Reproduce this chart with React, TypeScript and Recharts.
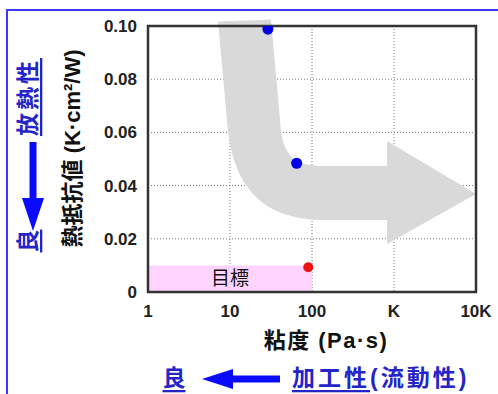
import React from 'react';
import { ScatterChart, Scatter, XAxis, YAxis, CartesianGrid, ReferenceArea } from 'recharts';

const viscosityTicks = [1, 10, 100, 1000, 10000];
const viscosityTickLabels = ['1', '10', '100', 'K', '10K'];
const resistanceTicks = [0, 0.02, 0.04, 0.06, 0.08, 0.1];
const resistanceTickLabels = ['0', '0.02', '0.04', '0.06', '0.08', '0.10'];

const blueViscosity = [29, 65];
const blueResistance = [0.0988, 0.0484];
const redViscosity = [90];
const redResistance = [0.0093];

const targetViscosity = [1, 100];
const targetResistance = [0, 0.01];
const targetLabel = '目標';

const FONT = "'Liberation Sans', Arial, 'Noto Sans CJK JP', sans-serif";

const blueData = blueViscosity.map((x, i) => ({ x, y: blueResistance[i] }));
const redData = redViscosity.map((x, i) => ({ x, y: redResistance[i] }));

// decorative curved arrow, in (log10 decades, resistance value) units
const ArrowShape = (props: any) => {
  const { x, y, width, height } = props;
  const p = (u: number, v: number) =>
    `${(x + (width * u) / 4).toFixed(2)},${(y + (height * (0.1 - v)) / 0.1).toFixed(2)}`;
  const d =
    `M${p(0.854, 0.1017)} L${p(1.5, 0.1024)} L${p(1.61, 0.0647)} ` +
    `C${p(1.634, 0.0504)} ${p(1.793, 0.0474)} ${p(2.159, 0.0474)} ` +
    `L${p(2.915, 0.0474)} L${p(2.915, 0.0568)} L${p(4, 0.0368)} L${p(2.915, 0.018)} ` +
    `L${p(2.915, 0.0271)} L${p(2.159, 0.0271)} ` +
    `C${p(1.427, 0.0271)} ${p(1.024, 0.0383)} ${p(0.963, 0.0647)} Z`;
  return <path d={d} fill="#d9d9d9" stroke="none" />;
};

const FrameShape = (props: any) => {
  const { x, y, width, height } = props;
  return <rect x={x} y={y} width={width} height={height} fill="none" stroke="#333" strokeWidth={2.5} />;
};

const dot = (color: string, r: number) => (props: any) =>
  <circle cx={props.cx} cy={props.cy} r={r} fill={color} />;

export default function App() {
  return (
    <div style={{ position: 'absolute', left: 0, top: 0, width: 498, height: 394, overflow: 'hidden', background: '#fff' }}>
      <ScatterChart width={498} height={394} margin={{ top: 26, right: 22, bottom: 0, left: 0 }}>
        <CartesianGrid stroke="#777" strokeDasharray="1 2" />
        <XAxis
          type="number"
          dataKey="x"
          scale="log"
          domain={[1, 10000]}
          ticks={viscosityTicks}
          tickFormatter={(v: number) => viscosityTickLabels[viscosityTicks.indexOf(v)] ?? ''}
          height={102}
          axisLine={false}
          tickLine={false}
          tickSize={0}
          tickMargin={13}
          interval={0}
          allowDataOverflow
          tick={{ fontSize: 17, fontWeight: 'bold', fill: '#222', fontFamily: FONT }}
        />
        <YAxis
          type="number"
          dataKey="y"
          domain={[0, 0.1]}
          ticks={resistanceTicks}
          tickFormatter={(v: number) => resistanceTickLabels[resistanceTicks.indexOf(v)] ?? ''}
          width={148}
          axisLine={false}
          tickLine={false}
          tickSize={0}
          tickMargin={11}
          interval={0}
          allowDataOverflow
          tick={{ fontSize: 17, fontWeight: 'bold', fill: '#222', fontFamily: FONT }}
        />
        <ReferenceArea
          x1={targetViscosity[0]}
          x2={targetViscosity[1]}
          y1={targetResistance[0]}
          y2={targetResistance[1]}
          fill="#ffccff"
          fillOpacity={0.85}
          stroke="none"
          label={{ value: targetLabel, position: 'center', fontSize: 19, fill: '#111', fontFamily: FONT }}
        />
        <ReferenceArea x1={1} x2={10000} y1={0} y2={0.1} shape={ArrowShape} ifOverflow="visible" />
        <ReferenceArea x1={1} x2={10000} y1={0} y2={0.1} shape={FrameShape} ifOverflow="visible" />
        <Scatter data={blueData} shape={dot('#0000e6', 5.5)} isAnimationActive={false} />
        <Scatter data={redData} shape={dot('#ee1111', 5)} isAnimationActive={false} />
      </ScatterChart>
      <svg width={498} height={394} style={{ position: 'absolute', left: 0, top: 0, pointerEvents: 'none' }}>
        <line x1={6} y1={10} x2={498} y2={10} stroke="#3a3aff" strokeWidth={2} />
        <line x1={7} y1={9} x2={7} y2={394} stroke="#3a3aff" strokeWidth={2} />
        {/* left vertical arrow */}
        <rect x={29.5} y={142} width={7} height={57} fill="#0a0aff" />
        <polygon points="22,198 44,198 33,231" fill="#0a0aff" />
        {/* bottom horizontal arrow */}
        <polygon points="202,379 233,369 233,389" fill="#0a0aff" />
        <rect x={232} y={375.5} width={48} height={7} fill="#0a0aff" />
        <text
          x={72}
          y={148.5}
          transform="rotate(-90 72 148.5)"
          textAnchor="middle"
          dominantBaseline="central"
          fontFamily={FONT}
          fontWeight="bold"
          fontSize={22}
          fill="#111"
        >
          熱抵抗値 (K·cm²/W)
        </text>
        <text x={326} y={340} textAnchor="middle" dominantBaseline="central" fontFamily={FONT} fontWeight="bold" fontSize={22} letterSpacing={1.5} fill="#111">
          粘度 (Pa·s)
        </text>
        <text
          x={28}
          y={97}
          transform="rotate(-90 28 97)"
          textAnchor="middle"
          dominantBaseline="central"
          fontFamily={FONT}
          fontWeight="bold"
          fontSize={23}
          letterSpacing={3}
          fill="#2424c8"
          textDecoration="underline"
        >
          放熱性
        </text>
        <text
          x={28}
          y={241}
          transform="rotate(-90 28 241)"
          textAnchor="middle"
          dominantBaseline="central"
          fontFamily={FONT}
          fontWeight="bold"
          fontSize={23}
          fill="#2424c8"
          textDecoration="underline"
        >
          良
        </text>
        <text x={174} y={378} textAnchor="middle" dominantBaseline="central" fontFamily={FONT} fontWeight="bold" fontSize={23} fill="#2424c8" textDecoration="underline">
          良
        </text>
        <text x={292} y={378} dominantBaseline="central" fontFamily={FONT} fontWeight="bold" fontSize={23} letterSpacing={3} fill="#2424c8">
          <tspan textDecoration="underline">加工性</tspan>
          <tspan>(流動性)</tspan>
        </text>
      </svg>
    </div>
  );
}
